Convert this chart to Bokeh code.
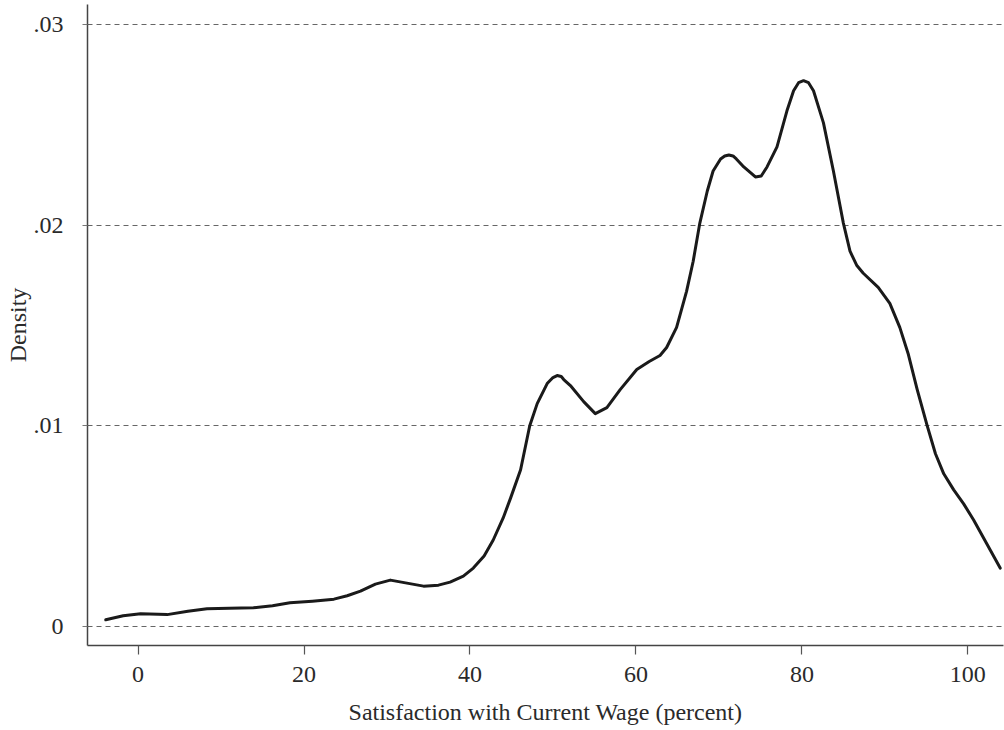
from bokeh.plotting import figure
from bokeh.models import FixedTicker, Range1d
from bokeh.embed import file_html
from bokeh.resources import INLINE

# Data (kernel density estimate)
satisfaction = [-3.9, -1.8, 0.3, 3.5, 6.0, 8.3, 11.0, 13.9, 16.2, 18.3, 21.0, 23.6,
                25.2, 26.8, 28.6, 30.4, 32.4, 34.4, 36.2, 37.6, 39.2, 40.4, 41.7,
                42.8, 44.0, 44.9, 46.1, 47.2, 48.1, 49.3, 50.0, 50.5, 51.0, 51.3,
                52.1, 53.7, 55.1, 56.5, 58.1, 60.1, 61.6, 62.9, 63.7, 64.9, 66.1,
                66.9, 67.7, 68.6, 69.3, 70.2, 70.7, 71.2, 71.7, 72.1, 73.0, 74.4,
                75.1, 75.8, 77.0, 78.2, 79.0, 79.6, 80.2, 80.8, 81.4, 82.6, 83.8,
                85.0, 85.8, 86.6, 87.4, 89.2, 90.6, 91.8, 92.8, 93.9, 95.1, 96.1,
                97.1, 98.3, 99.5, 100.7, 101.9, 103.9]
density = [0.00032, 0.00052, 0.00062, 0.00058, 0.00075, 0.00087, 0.00090, 0.00092,
           0.00102, 0.00117, 0.00125, 0.00135, 0.00152, 0.00175, 0.0021, 0.0023,
           0.00215, 0.0020, 0.00205, 0.0022, 0.0025, 0.0029, 0.0035, 0.0043, 0.0054,
           0.0064, 0.0078, 0.0100, 0.0111, 0.0121, 0.01240, 0.0125, 0.01245, 0.0123,
           0.0120, 0.0112, 0.0106, 0.0109, 0.0118, 0.0128, 0.0132, 0.0135, 0.0139,
           0.0149, 0.0167, 0.0182, 0.0201, 0.0217, 0.0227, 0.0233, 0.02345, 0.0235,
           0.02345, 0.0233, 0.0229, 0.0224, 0.02245, 0.0229, 0.0239, 0.0257, 0.0267,
           0.0271, 0.0272, 0.0271, 0.0267, 0.0251, 0.0227, 0.0201, 0.0187, 0.0180,
           0.0176, 0.0169, 0.0161, 0.0149, 0.0136, 0.0118, 0.0100, 0.0086, 0.0076,
           0.0068, 0.0061, 0.0053, 0.0044, 0.0029]

x_ticks = [0, 20, 40, 60, 80, 100]
y_ticks = [0, 0.01, 0.02, 0.03]
y_tick_labels = {0: "0", 0.01: ".01", 0.02: ".02", 0.03: ".03"}

FONT = "Liberation Serif"
TXT = "#2a2a2a"
FS = "24px"

p = figure(width=1004, height=730, output_backend="svg", toolbar_location=None,
           x_range=Range1d(-6.1, 104.3), y_range=Range1d(-0.00096, 0.0310),
           min_border_left=87, min_border_right=1, min_border_top=4,
           min_border_bottom=85)
p.outline_line_color = None
p.background_fill_color = "white"
p.border_fill_color = "white"

p.line(satisfaction, density, line_color="#1a1a1a", line_width=3,
       line_join="round", line_cap="round")

# x axis
xa = p.xaxis[0]
xa.ticker = FixedTicker(ticks=x_ticks)
xa.axis_label = "Satisfaction with Current Wage (percent)"
xa.axis_label_text_font = FONT
xa.axis_label_text_font_style = "normal"
xa.axis_label_text_font_size = FS
xa.axis_label_text_color = TXT
xa.axis_label_standoff = 14
xa.major_label_text_font = FONT
xa.major_label_text_font_size = FS
xa.major_label_text_color = TXT
xa.major_label_standoff = 9
xa.axis_line_color = "#444444"
xa.axis_line_width = 1.5
xa.major_tick_line_color = "#555555"
xa.major_tick_line_width = 1.2
xa.major_tick_in = 0
xa.major_tick_out = 12
xa.major_tick_line_dash = "0 3 9 20"
xa.minor_tick_line_color = None

# y axis
ya = p.yaxis[0]
ya.ticker = FixedTicker(ticks=y_ticks)
ya.major_label_overrides = y_tick_labels
ya.axis_label = "Density"
ya.axis_label_text_font = FONT
ya.axis_label_text_font_style = "normal"
ya.axis_label_text_font_size = FS
ya.axis_label_text_color = TXT
ya.axis_label_standoff = 0
ya.major_label_text_font = FONT
ya.major_label_text_font_size = FS
ya.major_label_text_color = TXT
ya.major_label_standoff = 14
ya.major_label_orientation = "horizontal"
ya.axis_line_color = "#444444"
ya.axis_line_width = 1.5
ya.major_tick_line_color = "#777777"
ya.major_tick_line_width = 1
ya.major_tick_in = 0
ya.major_tick_out = 10
ya.major_tick_line_dash = "0 5 5 10"
ya.minor_tick_line_color = None

p.xgrid.grid_line_color = None
p.ygrid.ticker = FixedTicker(ticks=y_ticks)
p.ygrid.grid_line_color = "#666666"
p.ygrid.grid_line_width = 1
p.ygrid.grid_line_dash = "5 4"

open("out.html", "w").write(file_html(p, INLINE))
